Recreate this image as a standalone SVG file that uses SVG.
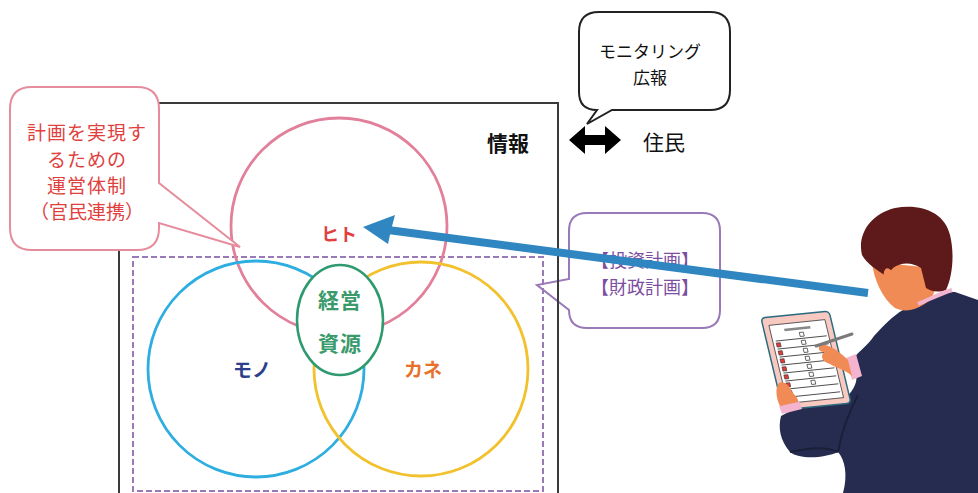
<svg xmlns="http://www.w3.org/2000/svg" width="978" height="493" viewBox="0 0 978 493">
  <style>
    text { font-family: "Noto Sans CJK JP", "Noto Sans", sans-serif; text-anchor: middle; dominant-baseline: central; }
    .frame { fill: none; stroke: #3a3a3a; stroke-width: 2; }
    .dash { fill: none; stroke: #9a79b8; stroke-width: 2; stroke-dasharray: 6 3; }
    .ring { fill: none; stroke-width: 2.8; }
    .red { fill: #e0413e; }
    .purple { fill: #7d4e9f; }
    .skin { fill: #f08b55; }
    .suit { fill: #262c4f; }
    .cuff { fill: #f4b3cf; }
  </style>

  <rect width="978" height="493" fill="#ffffff"/>

  <!-- finance callout (behind the frame) -->
  <g id="callout-finance">
    <path d="M587 213 H702 Q720 213 720 231 V310 Q720 328 702 328 H587 Q569 328 569 310 L537 285 L569 279 V231 Q569 213 587 213 Z" fill="#ffffff" stroke="#9a79b8" stroke-width="2"/>
    <text class="purple" x="645" y="259" font-size="18">【投資計画】</text>
    <text class="purple" x="645" y="286" font-size="18">【財政計画】</text>
  </g>

  <!-- information frame -->
  <g id="frame-info">
    <rect class="frame" x="119" y="103" width="439" height="400"/>
    <text x="508" y="142" font-size="21" font-weight="bold" fill="#111">情報</text>
  </g>

  <!-- management resource area -->
  <g id="area-resources">
    <rect class="dash" x="133" y="257" width="410" height="234"/>
  </g>

  <g id="circle-hito">
    <circle class="ring" cx="339" cy="226" r="108" stroke="#e27f9a"/>
    <text class="red" x="339" y="233" font-size="18" font-weight="bold">ヒト</text>
  </g>
  <g id="circle-mono">
    <circle class="ring" cx="256" cy="369" r="108" stroke="#2eaee0"/>
    <text x="252" y="368" font-size="19" font-weight="bold" fill="#2c3f8c">モノ</text>
  </g>
  <g id="circle-kane">
    <circle class="ring" cx="421" cy="369" r="107" stroke="#f2c12e"/>
    <text x="423" y="368" font-size="19" font-weight="bold" fill="#e8712b">カネ</text>
  </g>
  <g id="core-resources">
    <ellipse cx="340" cy="320" rx="43" ry="55" fill="#ffffff" stroke="#2f9a70" stroke-width="2.5"/>
    <text x="340" y="299" font-size="21" font-weight="bold" fill="#3a9a6c" letter-spacing="1">経営</text>
    <text x="340" y="342" font-size="21" font-weight="bold" fill="#3a9a6c" letter-spacing="1">資源</text>
  </g>

  <!-- organisation callout -->
  <g id="callout-organisation">
    <path d="M32 87 H137 Q159 87 159 109 V183 L240 247 L159 223 V228 Q159 250 137 250 H32 Q10 250 10 228 V109 Q10 87 32 87 Z" fill="#ffffff" stroke="#e58c9d" stroke-width="2"/>
    <text class="red" x="87" y="131" font-size="19" letter-spacing="1">計画を実現す</text>
    <text class="red" x="87" y="158" font-size="19" letter-spacing="1">るための</text>
    <text class="red" x="87" y="184" font-size="19" letter-spacing="1">運営体制</text>
    <text class="red" x="87" y="210" font-size="19">（官民連携）</text>
  </g>

  <!-- monitoring callout -->
  <g id="callout-monitoring">
    <path d="M599 12 H710 Q730 12 730 32 V90 Q730 110 710 110 H612 L587 124 L597 110 Q579 110 579 92 V32 Q579 12 599 12 Z" fill="#ffffff" stroke="#222" stroke-width="2"/>
    <text x="650" y="50" font-size="17" fill="#111">モニタリング</text>
    <text x="650" y="76" font-size="17" fill="#111">広報</text>
  </g>

  <!-- residents -->
  <g id="residents">
    <text x="664" y="141" font-size="21" fill="#111">住民</text>
  </g>

  <!-- connectors -->
  <g id="connectors">
    <polygon points="569,140 585,126 585,135 605,135 605,126 621,140 605,154 605,145 585,145 585,154" fill="#000"/>
    <line x1="868" y1="293" x2="388" y2="230" stroke="#2f86c0" stroke-width="8"/>
    <polygon points="363,227 395,215 391,230 388,244" fill="#2f86c0"/>
  </g>

  <!-- person with tablet -->
  <g id="person">
    <!-- suit -->
    <path class="suit" d="M903 310 C925 300 945 292 955 292 L978 300 L978 493 L843 493 C848 475 845 460 838 452 C825 458 800 460 790 452 C780 440 778 428 781 416 L800 406 C815 408 830 405 845 398 C855 390 858 380 856 372 L852 360 C860 350 868 345 874 336 C884 325 894 315 903 310 Z"/>
    <path d="M838 452 C842 430 850 410 858 395" fill="none" stroke="#1a1f3a" stroke-width="2"/>
    <path d="M790 452 C810 448 825 446 838 452" fill="none" stroke="#1a1f3a" stroke-width="2"/>
    <!-- neck and face -->
    <path class="skin" d="M872 262 C874 280 882 298 895 308 C905 313 918 310 930 300 C936 292 938 280 934 268 Z"/>
    <!-- hair -->
    <path d="M862 255 C857 235 870 214 895 208 C920 203 945 212 950 235 C955 255 952 278 946 290 C938 293 930 291 926 288 L921 268 C912 262 901 262 893 268 L886 276 C877 270 867 264 862 255 Z" fill="#5e1a1a"/>
    <ellipse class="skin" cx="889" cy="277" rx="5" ry="9" transform="rotate(-15 889 277)"/>
    <path d="M918 304 C930 299 942 293 952 290" fill="none" stroke="#f4b3cf" stroke-width="4"/>
    <!-- tablet -->
    <g transform="matrix(1,-0.103,0.239,1,761,318)">
      <rect x="0" y="0" width="68" height="92" rx="4" fill="#f7c9c0" stroke="#2a6b80" stroke-width="1.5"/>
      <rect x="6" y="8" width="56" height="78" fill="#ffffff" stroke="#444" stroke-width="0.8"/>
      <line x1="20" y1="14" x2="46" y2="14" stroke="#888" stroke-width="2.5"/>
      <g stroke="#333" stroke-width="0.8">
        <line x1="9" y1="24" x2="60" y2="24"/>
        <line x1="9" y1="32" x2="60" y2="32"/>
        <line x1="9" y1="40" x2="60" y2="40"/>
        <line x1="9" y1="48" x2="60" y2="48"/>
        <line x1="9" y1="56" x2="60" y2="56"/>
        <line x1="9" y1="64" x2="60" y2="64"/>
        <line x1="9" y1="72" x2="60" y2="72"/>
        <line x1="9" y1="80" x2="60" y2="80"/>
      </g>
      <g fill="#e03a3a" stroke="#333" stroke-width="0.6">
        <rect x="9" y="26" width="4" height="4"/>
        <rect x="9" y="34" width="4" height="4"/>
        <rect x="9" y="42" width="4" height="4"/>
        <rect x="9" y="50" width="4" height="4"/>
        <rect x="9" y="58" width="4" height="4"/>
        <rect x="9" y="66" width="4" height="4"/>
        <rect x="9" y="74" width="4" height="4"/>
      </g>
      <g fill="#ffffff" stroke="#333" stroke-width="0.7">
        <rect x="34" y="18" width="4" height="4"/>
        <rect x="34" y="26" width="4" height="4"/>
        <rect x="34" y="34" width="4" height="4"/>
        <rect x="34" y="42" width="4" height="4"/>
        <rect x="34" y="50" width="4" height="4"/>
        <rect x="34" y="58" width="4" height="4"/>
        <rect x="34" y="66" width="4" height="4"/>
      </g>
    </g>
    <!-- hands and cuffs -->
    <path class="cuff" d="M846 358 L856 354 L862 376 L852 380 Z"/>
    <path class="skin" d="M848 360 C840 352 832 346 822 344 C817 346 818 352 824 352 C820 356 822 362 830 364 C836 368 846 370 852 376 Z"/>
    <line x1="816" y1="346" x2="852" y2="334" stroke="#7a7a7a" stroke-width="3" stroke-linecap="round"/>
    <path class="cuff" d="M779 406 L799 401 L802 409 L782 414 Z"/>
    <path class="skin" d="M780 406 C776 398 775 388 779 383 C784 380 790 386 792 392 C796 396 799 400 798 402 Z"/>
  </g>
</svg>
